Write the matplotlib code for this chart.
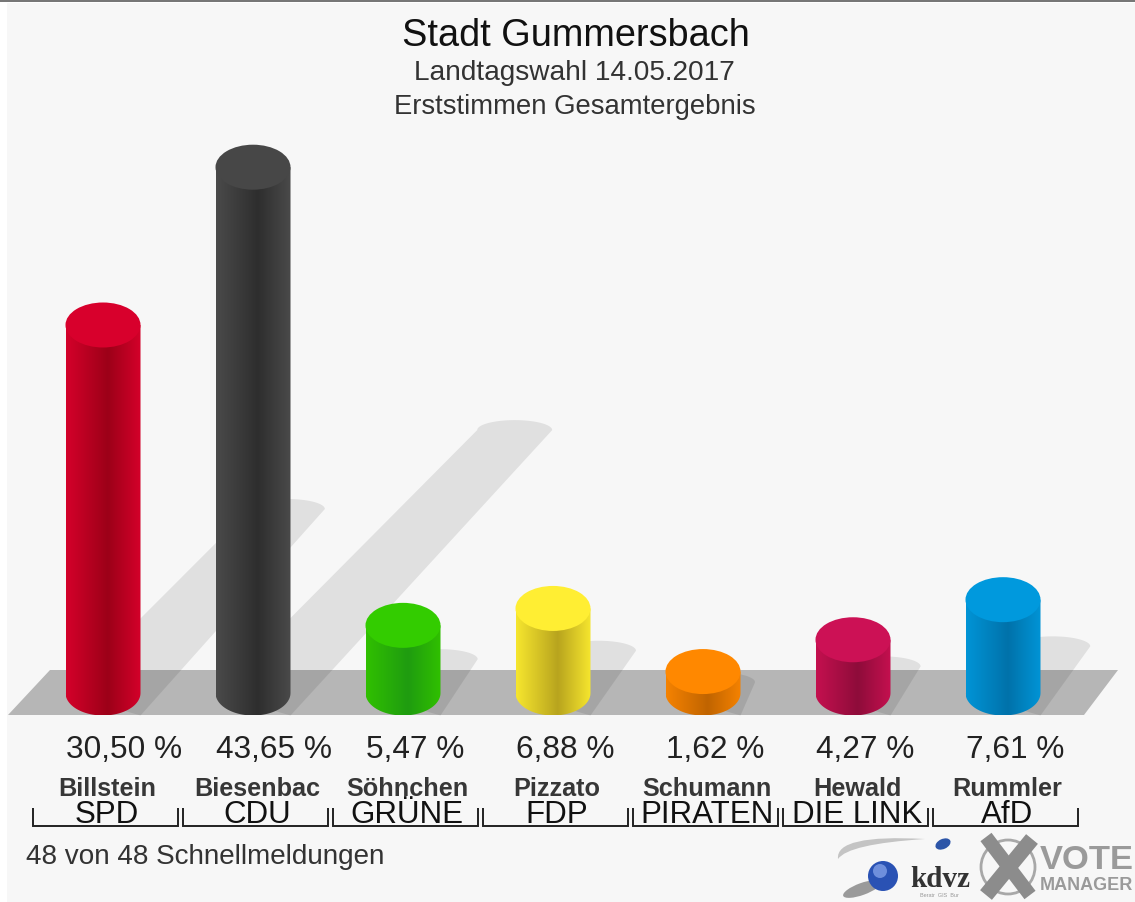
import numpy as np
import matplotlib
matplotlib.use("Agg")
import matplotlib.pyplot as plt
from matplotlib.patches import Polygon, Rectangle, Ellipse, PathPatch, Circle
from matplotlib.path import Path
from matplotlib.colors import LinearSegmentedColormap

candidates = ["Billstein", "Biesenbac", "Söhnchen", "Pizzato", "Schumann", "Hewald", "Rummler"]
parties = ["SPD", "CDU", "GRÜNE", "FDP", "PIRATEN", "DIE LINK", "AfD"]
values = [30.50, 43.65, 5.47, 6.88, 1.62, 4.27, 7.61]
cap_colors = ["#d8002c", "#474747", "#33cc00", "#ffee33", "#ff8800", "#cc1155", "#0099dd"]
edge_colors = ["#d4002a", "#4a4a4a", "#30c000", "#f6e62e", "#f58200", "#c4104f", "#0094d6"]
mid_colors = ["#9c0018", "#2e2e2e", "#1f9c10", "#b8a41e", "#c06400", "#8e0c3a", "#0072aa"]

plt.rcParams["font.family"] = ["Liberation Sans", "DejaVu Sans"]
W, H = 1135, 903
fig = plt.figure(figsize=(W / 100, H / 100), dpi=100, facecolor="white")
ax = fig.add_axes([0, 0, 1, 1])
ax.set_xlim(0, W)
ax.set_ylim(H, 0)
ax.axis("off")

BASE = 716.5
HALF = 37.5
RY = 22.5
PX_PER_PCT = 12.0
OFFSET = 47
centers = [103 + 150 * i for i in range(len(values))]


def height(v):
    return OFFSET + PX_PER_PCT * v


# background and top rule
ax.add_patch(Rectangle((7, 4), W - 7, H - 4, fc="#f7f7f7", ec="none", zorder=0))
ax.add_patch(Rectangle((0, 0), W, 2.5, fc="#777777", ec="none", zorder=1))

# floor
ax.add_patch(Polygon([(8, 716), (50, 671), (1118, 671), (1084, 716)], fc="#b6b6b6", ec="none", zorder=1))

# shadows
t = np.linspace(np.pi, 2 * np.pi, 40)
for cx, v in zip(centers, values):
    h = height(v)
    tx, ty = cx + 0.49 * h - 18, BASE - 0.5 * h
    xs = np.r_[cx - HALF, tx + HALF * np.cos(t), cx + HALF]
    ys = np.r_[BASE - 22, ty + 10 * np.sin(t), BASE]
    ax.add_patch(Polygon(np.c_[xs, ys], fc="black", alpha=0.09, ec="none", zorder=2))

# cylinders
for cx, v, cap, edge, mid in zip(centers, values, cap_colors, edge_colors, mid_colors):
    top = BASE - height(v)
    cy = top + RY
    bot = BASE - RY
    tt = np.linspace(0, np.pi, 50)
    body_x = np.r_[cx - HALF, cx - HALF * np.cos(tt), cx + HALF]
    body_y = np.r_[cy, bot + RY * np.sin(tt), cy]
    clip = Polygon(np.c_[body_x, body_y], transform=ax.transData, fc="none", ec="none")
    ax.add_patch(clip)
    cmap = LinearSegmentedColormap.from_list("c", [(0, edge), (0.56, mid), (1, edge)])
    im = ax.imshow(np.linspace(0, 1, 128)[None, :], extent=(cx - HALF, cx + HALF, BASE, cy),
                   cmap=cmap, aspect="auto", zorder=3, interpolation="bilinear")
    im.set_clip_path(clip)
    ax.add_patch(Ellipse((cx, cy), 2 * HALF, 2 * RY, fc=cap, ec="none", zorder=4))
ax.set_xlim(0, W)
ax.set_ylim(H, 0)

# titles
ax.text(575.5, 36, "Stadt Gummersbach", fontsize=27.3, ha="center", va="center", color="#111111")
ax.text(574.5, 72.5, "Landtagswahl 14.05.2017", fontsize=20.2, ha="center", va="center", color="#333333")
ax.text(574.5, 107, "Erststimmen Gesamtergebnis", fontsize=19.8, ha="center", va="center", color="#333333")

# labels
for cx, v, cand, party in zip(centers, values, candidates, parties):
    pct = f"{v:.2f}".replace(".", ",") + " %"
    ax.text(cx - 37, 750, pct, fontsize=22.8, ha="left", va="center", color="#222222")
    ax.text(cx + 4, 789, cand, fontsize=18.2, ha="center", va="center", color="#222222", fontweight="bold",
            alpha=0.9)
    ax.text(cx + 4, 815.5, party, fontsize=22.5, ha="center", va="center", color="#111111")
    ax.plot([cx - 70, cx - 70, cx + 75, cx + 75], [809, 827.5, 827.5, 809], color="#222222", lw=1.4, zorder=5,
            solid_capstyle="butt", solid_joinstyle="miter")

ax.text(26, 857, "48 von 48 Schnellmeldungen", fontsize=20.1, ha="left", va="center", color="#333333")

# logos
verts = [(925, 840), (835, 835), (838, 860), (848, 845), (925, 840), (925, 840)]
codes = [Path.MOVETO, Path.CURVE3, Path.CURVE3, Path.CURVE3, Path.CURVE3, Path.CLOSEPOLY]
ax.add_patch(PathPatch(Path(verts, codes), fc="#c4c4c4", ec="none", zorder=3))
ax.add_patch(Ellipse((943, 845), 16, 10, angle=-25, fc="#2c55a8", ec="none", zorder=4))
ax.add_patch(Ellipse((862, 890), 40, 12, angle=-20, fc="#9a9a9a", ec="none", zorder=3))
ax.add_patch(Circle((883, 877), 15, fc="#2a52b4", ec="none", zorder=4))
ax.add_patch(Circle((880, 872), 7, fc="#6f8fdc", ec="none", zorder=4))
ax.text(940, 880, "kdvz", fontsize=21, fontweight="bold", family="Liberation Serif", ha="center", va="center", color="#333333")
ax.text(939, 896, "Beratr  GIS  Bur", fontsize=4, ha="center", va="center", color="#999999")
ax.add_patch(Circle((1008, 868), 27, fc="none", ec="#a8a8a8", lw=2, zorder=3))
ax.plot([986, 1030], [838, 896], color="#8c8c8c", lw=10, solid_capstyle="butt", zorder=4)
ax.plot([1032, 986], [840, 896], color="#8c8c8c", lw=11, solid_capstyle="butt", zorder=4)
ax.text(1040, 861, "VOTE", fontsize=24.8, fontweight="bold", ha="left", va="center", color="#9a9a9a")
ax.text(1040, 886, "MANAGER", fontsize=13, fontweight="bold", ha="left", va="center", color="#9a9a9a")

fig.savefig("out.png", dpi=100, facecolor="white")
